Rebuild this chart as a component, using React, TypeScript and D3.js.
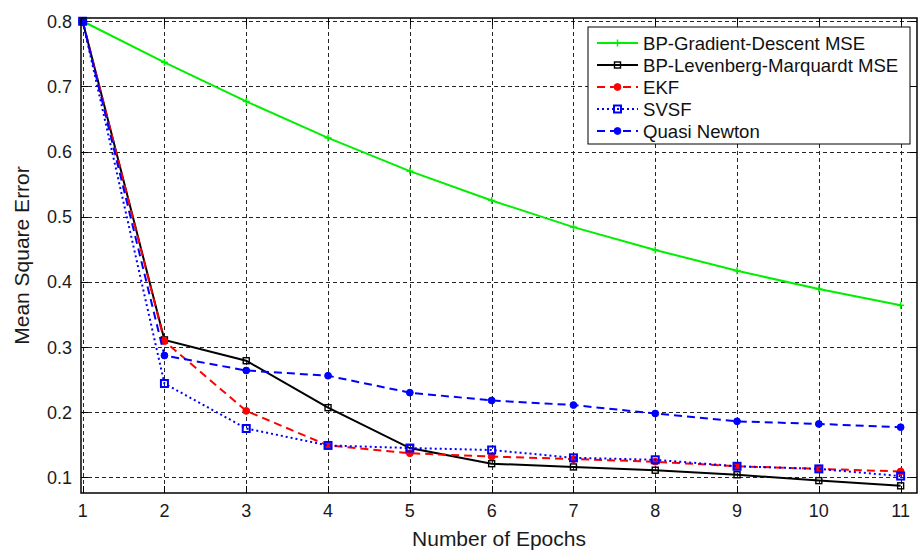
import React from "react";
import * as d3 from "d3";

const epochs = [1, 2, 3, 4, 5, 6, 7, 8, 9, 10, 11];
const gdMSE = [0.8, 0.737, 0.677, 0.621, 0.57, 0.525, 0.484, 0.449, 0.417, 0.389, 0.364];
const lmMSE = [0.8, 0.311, 0.279, 0.207, 0.145, 0.121, 0.116, 0.111, 0.104, 0.095, 0.087];
const ekfMSE = [0.8, 0.309, 0.202, 0.149, 0.137, 0.132, 0.128, 0.124, 0.117, 0.113, 0.109];
const svsfMSE = [0.8, 0.244, 0.175, 0.149, 0.145, 0.142, 0.13, 0.127, 0.117, 0.113, 0.102];
const quasiMSE = [0.8, 0.287, 0.264, 0.256, 0.23, 0.218, 0.211, 0.198, 0.186, 0.182, 0.177];
const yTicks = [0.1, 0.2, 0.3, 0.4, 0.5, 0.6, 0.7, 0.8];
const xTicks = epochs;

type Series = {
  name: string;
  values: number[];
  color: string;
  dash: string;
  marker: "plus" | "square" | "dot";
};

const series: Series[] = [
  { name: "BP-Gradient-Descent MSE", values: gdMSE, color: "#00ee00", dash: "", marker: "plus" },
  { name: "BP-Levenberg-Marquardt MSE", values: lmMSE, color: "#000000", dash: "", marker: "square" },
  { name: "EKF", values: ekfMSE, color: "#ff0000", dash: "8,5", marker: "dot" },
  { name: "SVSF", values: svsfMSE, color: "#0000ff", dash: "2,3", marker: "square" },
  { name: "Quasi Newton", values: quasiMSE, color: "#0000ff", dash: "8,5", marker: "dot" },
];

const FONT = "'Liberation Sans', Arial, Helvetica, sans-serif";

function Marker({ s, cx, cy }: { s: Series; cx: number; cy: number }) {
  if (s.marker === "plus") {
    return (
      <g stroke={s.color} strokeWidth={1.5}>
        <line x1={cx - 3.5} x2={cx + 3.5} y1={cy} y2={cy} />
        <line x1={cx} x2={cx} y1={cy - 3.5} y2={cy + 3.5} />
      </g>
    );
  }
  if (s.marker === "square") {
    const h = s.color === "#000000" ? 3 : 3.5;
    return <rect x={cx - h} y={cy - h} width={2 * h} height={2 * h} fill="none" stroke={s.color} strokeWidth={s.color === "#000000" ? 1.4 : 2} />;
  }
  return <circle cx={cx} cy={cy} r={3.4} fill={s.color} stroke={s.color} strokeWidth={1} />;
}

export default function App() {
  const left = 81, right = 917, top = 18, bottom = 493;
  const x = d3.scaleLinear().domain([0.98, 11.2]).range([left, right]);
  const y = d3.scaleLinear().domain([0.076, 0.805]).range([bottom, top]);
  const line = d3
    .line<number>()
    .x((_, i) => x(epochs[i]))
    .y((d) => y(d));
  const tickLen = 7;

  const legX = 588, legY = 27, legW = 322, legH = 117;
  const rowH = 22;

  return (
    <svg
      width={920}
      height={554}
      style={{ position: "absolute", left: 0, top: 0, background: "#fff" }}
      fontFamily={FONT}
    >
      <rect x={0} y={0} width={920} height={554} fill="#fff" />
      {/* grid */}
      <g stroke="#000" strokeWidth={1} strokeDasharray="4,3" opacity={0.85}>
        {xTicks.map((t) => (
          <line key={"gx" + t} x1={Math.round(x(t)) + 0.5} x2={Math.round(x(t)) + 0.5} y1={top} y2={bottom} />
        ))}
        {yTicks.map((t) => (
          <line key={"gy" + t} x1={left} x2={right} y1={Math.round(y(t)) + 0.5} y2={Math.round(y(t)) + 0.5} />
        ))}
      </g>
      {/* ticks */}
      <g stroke="#000" strokeWidth={1}>
        {xTicks.map((t) => (
          <g key={"tx" + t}>
            <line x1={Math.round(x(t)) + 0.5} x2={Math.round(x(t)) + 0.5} y1={bottom} y2={bottom - tickLen} />
            <line x1={Math.round(x(t)) + 0.5} x2={Math.round(x(t)) + 0.5} y1={top} y2={top + tickLen} />
          </g>
        ))}
        {yTicks.map((t) => (
          <g key={"ty" + t}>
            <line x1={left} x2={left + tickLen} y1={Math.round(y(t)) + 0.5} y2={Math.round(y(t)) + 0.5} />
            <line x1={right} x2={right - tickLen} y1={Math.round(y(t)) + 0.5} y2={Math.round(y(t)) + 0.5} />
          </g>
        ))}
      </g>
      {/* series */}
      {series.map((s) => (
        <g key={s.name}>
          <path d={line(s.values) || ""} fill="none" stroke={s.color} strokeWidth={2} strokeDasharray={s.dash || undefined} />
          {s.values.map((v, i) => (
            <Marker key={i} s={s} cx={x(epochs[i])} cy={y(v)} />
          ))}
        </g>
      ))}
      {/* axes box */}
      <rect x={left} y={top} width={right - left} height={bottom - top} fill="none" stroke="#000" strokeWidth={1.5} />
      {/* tick labels */}
      <g fontSize={18} fill="#1a1a1a">
        {xTicks.map((t) => (
          <text key={"lx" + t} x={x(t)} y={517} textAnchor="middle">
            {t}
          </text>
        ))}
        {yTicks.map((t) => (
          <text key={"ly" + t} x={72} y={y(t) + 6.5} textAnchor="end">
            {t.toFixed(1)}
          </text>
        ))}
      </g>
      {/* axis labels */}
      <text x={(left + right) / 2} y={546} textAnchor="middle" fontSize={21} fill="#1a1a1a">
        Number of Epochs
      </text>
      <text
        transform={`translate(29,${(top + bottom) / 2}) rotate(-90)`}
        textAnchor="middle"
        fontSize={21}
        fill="#1a1a1a"
      >
        Mean Square Error
      </text>
      {/* legend */}
      <rect x={legX} y={legY} width={legW} height={legH} fill="#fff" stroke="#000" strokeWidth={1} />
      {series.map((s, i) => {
        const cy = legY + 16 + i * rowH;
        return (
          <g key={"leg" + s.name}>
            <line x1={597} x2={638} y1={cy} y2={cy} stroke={s.color} strokeWidth={2} strokeDasharray={s.dash || undefined} />
            <Marker s={s} cx={617.5} cy={cy} />
            <text x={643} y={cy + 6.5} fontSize={18.6} fill="#111">
              {s.name}
            </text>
          </g>
        );
      })}
    </svg>
  );
}
